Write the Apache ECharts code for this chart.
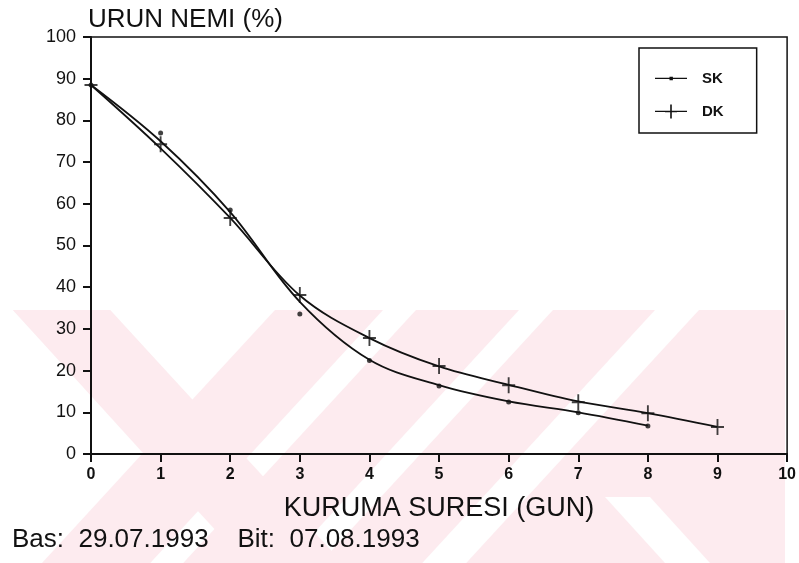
<!DOCTYPE html>
<html>
<head>
<meta charset="utf-8">
<script src="https://cdn.jsdelivr.net/npm/echarts@6/dist/echarts.min.js"></script>
<style>
html,body{margin:0;padding:0;background:#fff;}
#chart{width:799px;height:563px;}
</style>
</head>
<body>
<div id="chart"></div>
<script>
// ---- data ----
var xTicks = [0, 1, 2, 3, 4, 5, 6, 7, 8, 9, 10];
var yTicks = [0, 10, 20, 30, 40, 50, 60, 70, 80, 90, 100];
var skDays = [0, 1, 2, 3, 4, 5, 6, 7, 8];
var skObserved = [88.5, 77.0, 58.5, 33.6, 22.4, 16.3, 12.5, 9.9, 6.7];
var skCurve = [88.5, 75.0, 58.0, 36.5, 22.6, 16.5, 12.6, 10.0, 6.8];
var dkDays = [0, 1, 2, 3, 4, 5, 6, 7, 8, 9];
var dkObserved = [88.5, 74.3, 56.6, 38.1, 27.8, 21.1, 16.5, 12.4, 9.8, 6.5];
var dkCurve = [88.5, 73.3, 56.6, 38.0, 27.8, 21.0, 16.6, 12.6, 9.8, 6.5];
var seriesNames = ['SK', 'DK'];
var yTitle = 'URUN NEMI (%)';
var xTitle = 'KURUMA SURESI (GUN)';
var footer = 'Bas:  29.07.1993    Bit:  07.08.1993';

function pairs(xs, ys) { return xs.map(function (x, i) { return [x, ys[i]]; }); }

var plusPath = 'path://M6,0h2v16h-2z M0,7h14v2h-14z';
var FONT = '"Liberation Sans", Arial, sans-serif';
var INK = '#111';

// ---- faint background watermark (decoration of the scanned page) ----
var PINK = '#fdebef';
var WM_TOP = 310, WM_BOT = 563, SL = 0.92 * (WM_BOT - WM_TOP);
function poly(pts, fill, z) {
  return {type: 'polygon', silent: true, z: z, shape: {points: pts}, style: {fill: fill}};
}
function slashBand(a, b, fill, z) {  // "/" band, a..b at top
  return poly([[a, WM_TOP], [b, WM_TOP], [b - SL, WM_BOT], [a - SL, WM_BOT]], fill, z);
}
function backBand(a, b, fill, z) {   // "\" band, a..b at top
  return poly([[a, WM_TOP], [b, WM_TOP], [b + SL, WM_BOT], [a + SL, WM_BOT]], fill, z);
}
var watermark = [
  {type: 'rect', silent: true, z: -30, shape: {x: 13, y: WM_TOP, width: 772, height: WM_BOT - WM_TOP}, style: {fill: PINK}},
  slashBand(383, 416, '#fff', -29),
  slashBand(519, 553, '#fff', -29),
  slashBand(655, 699, '#fff', -29),
  poly([[110, WM_TOP], [275, WM_TOP], [192, 400]], '#fff', -29),
  poly([[0, WM_TOP], [13, WM_TOP], [143, 453], [42, WM_BOT], [0, WM_BOT]], '#fff', -29),
  poly([[785, WM_TOP], [799, WM_TOP], [799, WM_BOT], [785, WM_BOT]], '#fff', -29),
  poly([[605, 497], [650, 497], [710, WM_BOT], [665, WM_BOT]], '#fff', -29),
  backBand(13, 110, PINK, -28)
];

var chart = echarts.init(document.getElementById('chart'), null, {renderer: 'canvas'});
chart.setOption({
  backgroundColor: '#fff',
  animation: false,
  title: {
    text: yTitle, left: 88, top: 7, padding: 0,
    textStyle: {fontFamily: FONT, fontSize: 26, fontWeight: 'normal', color: INK}
  },
  legend: {
    orient: 'vertical', left: 639, top: 48,
    padding: [23, 33, 14, 16],
    borderColor: INK, borderWidth: 1.5,
    itemWidth: 32, itemHeight: 14, itemGap: 18,
    textStyle: {fontFamily: FONT, fontSize: 15, fontWeight: 'bold', color: INK, lineHeight: 14, padding: [0, 0, 0, 10]},
    data: [
      {name: seriesNames[0], icon: 'path://M0,1h32v1.3h-32z M14.5,0h3.4v3.4h-3.4z'},
      {name: seriesNames[1], icon: 'path://M0,6.3h32v1.3h-32z M15.2,0h1.6v14h-1.6z M10,6.2h12v1.6h-12z'}
    ]
  },
  grid: {
    left: 91, right: 11, top: 37, bottom: 109,
    show: true, borderColor: INK, borderWidth: 1.5, backgroundColor: 'transparent'
  },
  xAxis: {
    type: 'value', min: xTicks[0], max: xTicks[xTicks.length - 1], interval: 1,
    name: xTitle, nameLocation: 'middle', nameGap: 41,
    nameTextStyle: {fontFamily: FONT, fontSize: 27, color: INK},
    axisLine: {show: true, onZero: false, lineStyle: {color: INK, width: 2}},
    axisTick: {show: true, inside: false, length: 8, lineStyle: {color: INK, width: 2}},
    axisLabel: {margin: 13, fontFamily: FONT, fontSize: 16, fontWeight: 'bold', color: INK},
    splitLine: {show: false}
  },
  yAxis: {
    type: 'value', min: yTicks[0], max: yTicks[yTicks.length - 1], interval: 10,
    axisLine: {show: true, onZero: false, lineStyle: {color: INK, width: 2}},
    axisTick: {show: true, inside: false, length: 8, lineStyle: {color: INK, width: 2}},
    axisLabel: {margin: 15, fontFamily: FONT, fontSize: 18, color: INK},
    splitLine: {show: false}
  },
  graphic: watermark.concat([{
    type: 'text', left: 12, top: 527, z: 10,
    style: {text: footer, fontFamily: FONT, fontSize: 26, fill: INK}
  }]),
  series: [
    {
      name: seriesNames[0], type: 'line', smooth: 0.35, showSymbol: false, symbol: 'none',
      data: pairs(skDays, skCurve),
      lineStyle: {color: INK, width: 1.8}, itemStyle: {color: INK}, z: 3
    },
    {
      name: seriesNames[0], type: 'scatter', symbol: 'circle', symbolSize: 5,
      data: pairs(skDays, skObserved), itemStyle: {color: INK}, z: 4
    },
    {
      name: seriesNames[1], type: 'line', smooth: 0.35, showSymbol: false, symbol: 'none',
      data: pairs(dkDays, dkCurve),
      lineStyle: {color: INK, width: 1.8}, itemStyle: {color: INK}, z: 3
    },
    {
      name: seriesNames[1], type: 'scatter', symbol: plusPath, symbolSize: [13, 16],
      data: pairs(dkDays, dkObserved), itemStyle: {color: INK}, z: 4
    }
  ]
});
</script>
</body>
</html>
